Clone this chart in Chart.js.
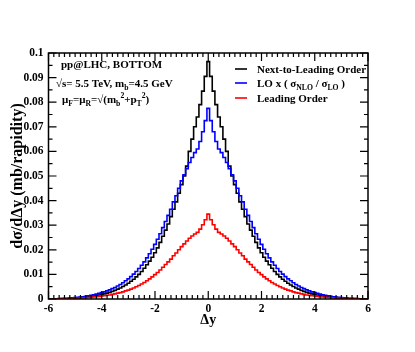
<!DOCTYPE html>
<html>
<head>
<meta charset="utf-8">
<script src="https://cdn.jsdelivr.net/npm/chart.js@4.4.1/dist/chart.umd.min.js"></script>
<style>
  html, body { margin: 0; padding: 0; background: #fff; }
  #wrap { width: 415px; height: 352px; }
</style>
</head>
<body>
<div id="wrap"><canvas id="dyChart" width="415" height="352"></canvas></div>
<script>
// bin centres in delta y
const binCenters = [
  -6.0,-5.9,-5.8,-5.7,-5.6,-5.5,-5.4,-5.3,-5.2,-5.1,
  -5.0,-4.9,-4.8,-4.7,-4.6,-4.5,-4.4,-4.3,-4.2,-4.1,
  -4.0,-3.9,-3.8,-3.7,-3.6,-3.5,-3.4,-3.3,-3.2,-3.1,
  -3.0,-2.9,-2.8,-2.7,-2.6,-2.5,-2.4,-2.3,-2.2,-2.1,
  -2.0,-1.9,-1.8,-1.7,-1.6,-1.5,-1.4,-1.3,-1.2,-1.1,
  -1.0,-0.9,-0.8,-0.7,-0.6,-0.5,-0.4,-0.3,-0.2,-0.1,
  0.0,
  0.1,0.2,0.3,0.4,0.5,0.6,0.7,0.8,0.9,1.0,
  1.1,1.2,1.3,1.4,1.5,1.6,1.7,1.8,1.9,2.0,
  2.1,2.2,2.3,2.4,2.5,2.6,2.7,2.8,2.9,3.0,
  3.1,3.2,3.3,3.4,3.5,3.6,3.7,3.8,3.9,4.0,
  4.1,4.2,4.3,4.4,4.5,4.6,4.7,4.8,4.9,5.0,
  5.1,5.2,5.3,5.4,5.5,5.6,5.7,5.8,5.9,6.0
];

// Next-to-Leading Order
const nloValues = [
  0.0000,0.0001,0.0001,0.0001,0.0001,0.0002,0.0002,0.0002,0.0003,0.0003,
  0.0004,0.0005,0.0006,0.0007,0.0008,0.0009,0.0010,0.0012,0.0014,0.0016,
  0.0019,0.0021,0.0024,0.0027,0.0031,0.0035,0.0040,0.0045,0.0051,0.0057,
  0.0064,0.0072,0.0080,0.0090,0.0100,0.0112,0.0125,0.0139,0.0154,0.0170,
  0.0188,0.0208,0.0230,0.0255,0.0280,0.0305,0.0335,0.0365,0.0395,0.0430,
  0.0465,0.0500,0.0540,0.0600,0.0650,0.0700,0.0740,0.0790,0.0845,0.0905,
  0.0965,
  0.0905,0.0845,0.0790,0.0740,0.0700,0.0650,0.0600,0.0540,0.0500,0.0465,
  0.0430,0.0395,0.0365,0.0335,0.0305,0.0280,0.0255,0.0230,0.0208,0.0188,
  0.0170,0.0154,0.0139,0.0125,0.0112,0.0100,0.0090,0.0080,0.0072,0.0064,
  0.0057,0.0051,0.0045,0.0040,0.0035,0.0031,0.0027,0.0024,0.0021,0.0019,
  0.0016,0.0014,0.0012,0.0010,0.0009,0.0008,0.0007,0.0006,0.0005,0.0004,
  0.0003,0.0003,0.0002,0.0002,0.0002,0.0001,0.0001,0.0001,0.0001,0.0000
];

// LO x (sigma_NLO / sigma_LO)
const loScaledValues = [
  0.0000,0.0001,0.0001,0.0001,0.0002,0.0002,0.0003,0.0003,0.0004,0.0005,
  0.0006,0.0007,0.0008,0.0009,0.0011,0.0013,0.0015,0.0017,0.0020,0.0023,
  0.0026,0.0029,0.0033,0.0037,0.0042,0.0047,0.0053,0.0059,0.0066,0.0074,
  0.0082,0.0091,0.0101,0.0112,0.0124,0.0137,0.0151,0.0167,0.0184,0.0202,
  0.0222,0.0243,0.0265,0.0290,0.0315,0.0340,0.0365,0.0395,0.0420,0.0450,
  0.0480,0.0505,0.0530,0.0555,0.0575,0.0595,0.0610,0.0640,0.0680,0.0725,
  0.0775,
  0.0725,0.0680,0.0640,0.0610,0.0595,0.0575,0.0555,0.0530,0.0505,0.0480,
  0.0450,0.0420,0.0395,0.0365,0.0340,0.0315,0.0290,0.0265,0.0243,0.0222,
  0.0202,0.0184,0.0167,0.0151,0.0137,0.0124,0.0112,0.0101,0.0091,0.0082,
  0.0074,0.0066,0.0059,0.0053,0.0047,0.0042,0.0037,0.0033,0.0029,0.0026,
  0.0023,0.0020,0.0017,0.0015,0.0013,0.0011,0.0009,0.0008,0.0007,0.0006,
  0.0005,0.0004,0.0003,0.0003,0.0002,0.0002,0.0001,0.0001,0.0001,0.0000
];

// Leading Order
const loValues = [
  0.0000,0.0000,0.0000,0.0000,0.0001,0.0001,0.0001,0.0001,0.0002,0.0002,
  0.0003,0.0003,0.0004,0.0004,0.0005,0.0006,0.0007,0.0008,0.0009,0.0010,
  0.0012,0.0013,0.0015,0.0016,0.0019,0.0021,0.0024,0.0026,0.0029,0.0033,
  0.0036,0.0040,0.0045,0.0050,0.0055,0.0061,0.0067,0.0074,0.0082,0.0090,
  0.0099,0.0108,0.0118,0.0129,0.0140,0.0151,0.0162,0.0176,0.0187,0.0200,
  0.0213,0.0224,0.0236,0.0247,0.0256,0.0264,0.0271,0.0284,0.0302,0.0322,
  0.0345,
  0.0322,0.0302,0.0284,0.0271,0.0264,0.0256,0.0247,0.0236,0.0224,0.0213,
  0.0200,0.0187,0.0176,0.0162,0.0151,0.0140,0.0129,0.0118,0.0108,0.0099,
  0.0090,0.0082,0.0074,0.0067,0.0061,0.0055,0.0050,0.0045,0.0040,0.0036,
  0.0033,0.0029,0.0026,0.0024,0.0021,0.0019,0.0016,0.0015,0.0013,0.0012,
  0.0010,0.0009,0.0008,0.0007,0.0006,0.0005,0.0004,0.0004,0.0003,0.0003,
  0.0002,0.0002,0.0001,0.0001,0.0001,0.0001,0.0000,0.0000,0.0000,0.0000
];

const seriesNames = ['Next-to-Leading Order', 'LO x ( σNLO / σLO )', 'Leading Order'];
const xTicks = [-6, -4, -2, 0, 2, 4, 6];
const yTicks = [0, 0.01, 0.02, 0.03, 0.04, 0.05, 0.06, 0.07, 0.08, 0.09, 0.1];

const SERIF = '"Liberation Serif", "DejaVu Serif", serif';

function toPoints(vals) {
  return binCenters.map((x, i) => ({ x: x, y: vals[i] }));
}

// draws text with sub/superscript pieces: [text, 'n'|'sub'|'sup']
function richText(ctx, x, y, parts, size) {
  let cx = x;
  parts.forEach(p => {
    const small = p[1] !== 'n';
    ctx.font = 'bold ' + (small ? size * 0.7 : size) + 'px ' + SERIF;
    let dy = 0;
    if (p[1] === 'sub') dy = size * 0.3;
    if (p[1] === 'sup') dy = -size * 0.45;
    ctx.fillText(p[0], cx, y + dy);
    cx += ctx.measureText(p[0]).width;
  });
}

const framePlugin = {
  id: 'frame',
  afterDraw(chart) {
    const ctx = chart.ctx;
    const a = chart.chartArea;
    const xs = chart.scales.x, ys = chart.scales.y;
    ctx.save();
    ctx.strokeStyle = '#000';
    ctx.lineWidth = 1.5;
    ctx.strokeRect(a.left, a.top, a.right - a.left, a.bottom - a.top);

    ctx.lineWidth = 1.2;
    ctx.beginPath();
    // x ticks, bottom and top, pointing inward
    for (let i = -30; i <= 30; i++) {
      const v = i * 0.2;
      const px = xs.getPixelForValue(v);
      const len = (i % 10 === 0) ? 8 : 4;
      ctx.moveTo(px, a.bottom); ctx.lineTo(px, a.bottom - len);
      ctx.moveTo(px, a.top); ctx.lineTo(px, a.top + len);
    }
    // y ticks, left and right
    for (let i = 0; i <= 20; i++) {
      const v = i * 0.005;
      const py = ys.getPixelForValue(v);
      const len = (i % 2 === 0) ? 8 : 4;
      ctx.moveTo(a.left, py); ctx.lineTo(a.left + len, py);
      ctx.moveTo(a.right, py); ctx.lineTo(a.right - len, py);
    }
    ctx.stroke();

    ctx.fillStyle = '#000';
    ctx.textBaseline = 'alphabetic';
    ctx.textAlign = 'left';

    // annotation text
    const fs = 11;
    richText(ctx, 61, 68, [['pp@LHC, BOTTOM', 'n']], fs);
    richText(ctx, 56, 87, [['√s= 5.5 TeV, m', 'n'], ['b', 'sub'], ['=4.5 GeV', 'n']], fs);
    richText(ctx, 62, 103, [['μ', 'n'], ['F', 'sub'], ['=μ', 'n'], ['R', 'sub'], ['=√(m', 'n'],
      ['b', 'sub'], ['2', 'sup'], ['+p', 'n'], ['T', 'sub'], ['2', 'sup'], [')', 'n']], fs);

    // legend
    const legendRows = [
      { color: '#000000', y: 69, parts: [[seriesNames[0], 'n']] },
      { color: '#0000ff', y: 83, parts: [['LO x ( σ', 'n'], ['NLO', 'sub'], [' / σ', 'n'], ['LO', 'sub'], [' )', 'n']] },
      { color: '#ff0000', y: 98, parts: [[seriesNames[2], 'n']] }
    ];
    legendRows.forEach(r => {
      ctx.strokeStyle = r.color;
      ctx.lineWidth = 1.6;
      ctx.beginPath();
      ctx.moveTo(235, r.y); ctx.lineTo(247, r.y);
      ctx.stroke();
      richText(ctx, 257, r.y + 3.5, r.parts, fs);
    });

    // axis titles
    ctx.font = 'bold 14px ' + SERIF;
    ctx.textAlign = 'center';
    ctx.fillText('Δy', (a.left + a.right) / 2, 324);

    ctx.translate(22, (a.top + a.bottom) / 2);
    ctx.rotate(-Math.PI / 2);
    ctx.font = 'bold 16px ' + SERIF;
    ctx.fillText('dσ/dΔy (mb/rapidity)', 0, 0);
    ctx.restore();
  }
};

const ctx = document.getElementById('dyChart').getContext('2d');
new Chart(ctx, {
  type: 'line',
  data: {
    datasets: [
      { label: seriesNames[0], data: toPoints(nloValues), borderColor: '#000000', order: 3 },
      { label: seriesNames[1], data: toPoints(loScaledValues), borderColor: '#0000ff', order: 2 },
      { label: seriesNames[2], data: toPoints(loValues), borderColor: '#ff0000', order: 1 }
    ]
  },
  options: {
    responsive: false,
    animation: false,
    devicePixelRatio: 1,
    layout: { padding: { left: 0.5, right: 47, top: 53, bottom: 23 } },
    elements: {
      line: { stepped: 'middle', borderWidth: 1.6, fill: false, tension: 0 },
      point: { radius: 0 }
    },
    plugins: { legend: { display: false }, tooltip: { enabled: false } },
    scales: {
      x: {
        type: 'linear', min: -6, max: 6,
        grid: { display: false, drawTicks: false },
        border: { display: false },
        afterFit: s => { s.height = 30; },
        afterBuildTicks: s => { s.ticks = xTicks.map(v => ({ value: v })); },
        ticks: {
          padding: 3, color: '#000',
          font: { family: SERIF, size: 11.5, weight: 'bold' },
          maxRotation: 0,
          callback: v => String(v)
        }
      },
      y: {
        type: 'linear', min: 0, max: 0.1,
        grid: { display: false, drawTicks: false },
        border: { display: false },
        afterFit: s => { s.width = 48; },
        afterBuildTicks: s => { s.ticks = yTicks.map(v => ({ value: v })); },
        ticks: {
          padding: 5, color: '#000',
          font: { family: SERIF, size: 11.5, weight: 'bold' },
          callback: v => String(parseFloat(v.toFixed(3)))
        }
      }
    }
  },
  plugins: [framePlugin]
});
</script>
</body>
</html>
